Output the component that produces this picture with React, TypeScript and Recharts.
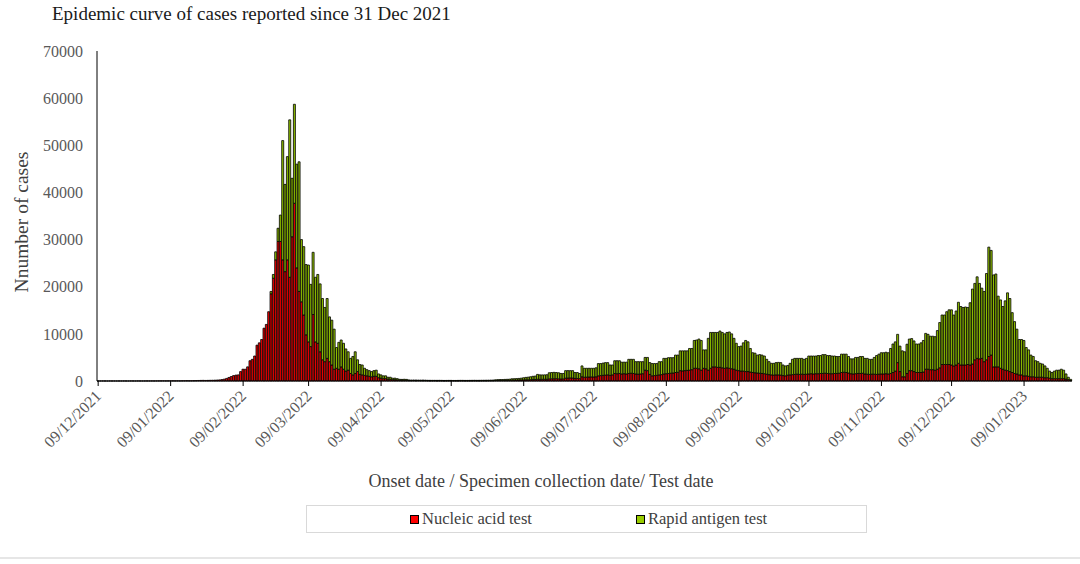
import { BarChart, Bar, XAxis, YAxis } from "recharts";

// Daily counts, one entry per day starting 09/12/2021 (417 days, to 29/01/2023)
const nucleicCases = [
  // 09/12/2021 - 31/12/2021
  12, 8, 15, 10, 6, 14, 9, 11, 7, 13, 10, 16, 12, 9, 18, 14, 11, 20, 15, 13, 17, 22, 19,
  // Jan 2022
  24, 18, 27, 30, 35, 41, 33, 38, 45, 52, 40, 48, 36, 55, 62, 70, 58, 66, 80, 95, 110, 128, 140, 120, 135, 150, 165, 180, 210, 240,
  300, 400, 550, 750, 950, 1150, 1250, 1300, 2000, 2500, 2500, 3000, 4300, 4600, 5300, 7600, 8100, 8800, 11200, 12000, 14700,
  // late Feb - Mar 2022 peak
  18500, 21800, 25700, 29600, 29600, 25700, 23200, 25700, 22000, 30600, 37700, 24000, 19000, 16800, 14000, 9800, 8300,
  7300, 14100, 8300, 8000, 6200, 4500, 4100, 4800, 4100, 3400, 2500, 2700, 2500, 3000, 2500, 2100, 2300, 1600, 1300, 1600,
  2000, 1400, 1300, 1200, 1100, 1000, 900, 1000, 1000, 700, 600, 500, 500, 380, 360, 280, 270, 230, 170, 160, 170, 150,
  105, 95, 110, 90, 100, 85, 95, 90,
  // late Apr - May 2022
  70, 65, 60, 72, 55, 58, 62, 50, 48, 55, 60, 52, 45, 50, 58, 62, 55, 48, 52, 60, 65, 58, 55, 62, 70, 68, 75, 80, 85,
  110, 120, 130, 125, 140, 150, 160, 180, 190, 200, 210, 220, 240, 250, 260, 280, 300, 320, 380,
  // Jun - Jul 2022
  350, 360, 380, 370, 450, 470, 480, 500, 460, 430, 450, 600, 620, 650, 630, 550, 540, 500, 900, 800, 820, 850, 870, 860, 900,
  1100, 1150, 1200, 1250, 1300, 1200, 1300, 1600, 1550, 1600, 1500, 1550, 1500, 1600, 1650, 1600, 1500, 1450, 1500, 1550, 2300, 2200, 1400,
  // Aug - Sep 2022
  1100, 1150, 1200, 1300, 1350, 1500, 1550, 1600, 1650, 1700, 1800, 1850, 2200, 2150, 2200, 2250, 2300, 2400,
  2700, 2700, 2600, 2300, 2700, 2600, 2300, 2700, 3000, 3000, 2900, 2900, 2800, 2700, 2800, 2700, 2600,
  2500, 2300, 2200, 2100, 2100, 2000, 2000, 1900, 1800, 1750, 1700, 1650, 1600, 1550, 1450, 1350, 1300, 1250, 1300, 1300, 1250, 1150, 1100, 1250, 1300,
  // Oct - Nov 2022
  1350, 1400, 1450, 1400, 1450, 1400, 1450,
  1500, 1550, 1500, 1550, 1550, 1600, 1600, 1650, 1600, 1550, 1550, 1600, 1600, 1650,
  1800, 1850, 1800, 1700, 1550, 1500, 1550, 1600, 1600, 1650, 1500, 1450, 1400, 1450, 1450,
  1400, 1450, 1500, 1500, 1550, 1500, 1600, 1800, 2100, 3900, 2000, 900, 900, 1600, 2200, 2200, 2000, 1800, 1800, 1800, 1900, 2500, 2500, 2400, 2400, 2300, 2500, 2800,
  // Dec 2022
  3500, 3500, 3500, 3500, 3400, 3200, 3400, 3750, 3400, 3400, 3400, 3500, 3400, 3600, 4500, 4800, 4700, 4800, 4100, 4500, 5200, 5500, 3000, 3000, 3000, 2700, 2500, 2300, 2200, 2000,
  // Jan 2023
  1800, 1600, 1500, 1300, 1300, 1100, 1100, 1000, 900, 900, 800, 800, 800, 800, 700, 700, 600, 500, 500, 500, 500, 500, 500, 400, 300, 100,
];

const rapidCases = [
  0, 0, 0, 0, 0, 0, 0, 0, 0, 0, 0, 0, 0, 0, 0, 0, 0, 0, 0, 0,
  0, 0, 0, 0, 0, 0, 0, 0, 0, 0, 0, 0, 0, 0, 0, 0, 0, 0, 0, 0,
  0, 0, 0, 0, 0, 0, 0, 0, 0, 0, 0, 0, 0, 0, 0, 0, 0, 0, 0, 0,
  0, 0, 0, 0, 0, 0, 0, 0, 0, 0, 0, 0, 0, 0,
  500, 800, 1700, 2800, 5600, 25300, 18500, 21900, 33400, 12400, 21000, 22000, 27500, 13200, 14500, 14900, 16300,
  13200, 13200, 13700, 14600, 14400, 13000, 11500, 12700, 9500, 9500, 8500, 4400, 5700, 5700, 5500, 4700, 3900, 3200, 3900, 4600,
  2500, 2100, 2100, 1500, 1300, 1200, 1100, 1200, 1300, 800, 700, 600, 600, 420, 440, 320, 330, 270, 190, 180, 200, 190,
  120, 110, 100, 115, 95, 105, 100, 90,
  80, 75, 82, 70, 78, 85, 72, 68, 75, 80, 70, 65, 72, 78, 82, 75, 70, 78, 85, 80, 88, 82, 90, 95, 92, 100, 105, 110, 120,
  150, 170, 180, 190, 200, 210, 230, 290, 300, 320, 340, 380, 450, 520, 560, 620, 700, 730, 1020,
  950, 930, 920, 960, 1300, 1330, 1350, 1300, 1290, 1170, 1150, 1600, 1580, 1550, 1570, 1250, 1260, 1100, 2300, 1900, 1880, 1850, 1830, 1840, 1900,
  2600, 2550, 2600, 2650, 2600, 2200, 2100, 2700, 2750, 2700, 2500, 2450, 2500, 3000, 2950, 3000, 2600, 2650, 2600, 2550, 2700, 2800, 2500,
  2600, 2550, 2500, 2800, 2750, 3300, 3250, 3350, 3300, 3250, 3700, 3650, 4200, 4250, 4200, 4150, 4600, 4500,
  5900, 6000, 6300, 6300, 3900, 4000, 6750, 7600, 7300, 7300, 7400, 7700, 7500, 7300, 7500, 7700, 7400,
  6550, 5700, 5100, 5300, 6000, 6600, 6300, 5000, 4200, 4150, 3800, 3950, 3900, 3750, 3150, 2750, 2450, 2500, 2600, 2650, 2650, 2250, 2100, 2050, 2450,
  3250, 3400, 3350, 3400, 3350, 3200, 3350,
  3800, 3750, 3800, 3750, 3850, 3800, 4000, 3950, 3800, 3850, 3750, 3700, 3600, 3550,
  3900, 3850, 3900, 3500, 3150, 3200, 3450, 3400, 3600, 3550, 3300, 3350, 3200, 3150, 3550,
  4000, 4250, 4500, 4500, 4550, 4500, 5300, 6050, 6200, 6000, 5400, 5500, 5300, 6200, 6700, 6800, 6500, 6050, 6050, 6300, 6700, 7600, 7400, 7100, 7100, 7100, 8200, 9600,
  10500, 10500, 11200, 11600, 11700, 10800, 11450, 12950, 12400, 12200, 12300, 12100, 13200, 15900, 16200, 17300, 16000, 14900, 14900, 18300, 23200, 22200, 19500, 19700, 15000, 14500, 13300, 14700, 16500, 15500,
  12700, 11000, 9500, 7500, 7500, 7500, 6000, 5600, 4600, 4300, 3500, 3300, 2950, 2800, 2500, 2000, 1500, 1300, 1600, 1800, 1800, 2000, 1800, 1100, 500, 250,
];

// day index (from 09/12/2021) of each labelled tick
const tickDays = [0, 31, 62, 90, 121, 151, 182, 212, 243, 274, 304, 335, 365, 396];
const tickLabels = [
  "09/12/2021", "09/01/2022", "09/02/2022", "09/03/2022", "09/04/2022", "09/05/2022", "09/06/2022",
  "09/07/2022", "09/08/2022", "09/09/2022", "09/10/2022", "09/11/2022", "09/12/2022", "09/01/2023",
];
const yTicks = [0, 10000, 20000, 30000, 40000, 50000, 60000, 70000];

const data = nucleicCases.map((n, i) => ({ day: i, nucleic: n, rapid: rapidCases[i] ?? 0 }));

const FONT = '"Liberation Serif", "Times New Roman", serif';
const RED = "#f00000";
const GREEN = "#8fbf00";

function DateTick({ x, y, payload }: any) {
  const label = tickLabels[tickDays.indexOf(payload.value)] ?? "";
  const px = x + 4;
  const py = y + 9;
  return (
    <text
      x={px}
      y={py}
      transform={`rotate(-45 ${px} ${py})`}
      textAnchor="end"
      fontSize={16}
      fill="#595959"
      style={{ fontFamily: FONT }}
    >
      {label}
    </text>
  );
}

export default function App() {
  return (
    <div
      style={{
        position: "absolute",
        left: 0,
        top: 0,
        width: 1080,
        height: 564,
        background: "#fff",
        fontFamily: FONT,
        overflow: "hidden",
      }}
    >
      <div style={{ position: "absolute", left: 52, top: 3, fontSize: 19, color: "#1a1a1a", whiteSpace: "nowrap" }}>
        Epidemic curve of cases reported since 31 Dec 2021
      </div>

      <BarChart
        width={1080}
        height={564}
        data={data}
        margin={{ top: 51, right: 8, bottom: 0, left: 0 }}
        barCategoryGap={0}
        barGap={0}
        style={{ fontFamily: FONT }}
      >
        <XAxis
          dataKey="day"
          height={183}
          ticks={tickDays}
          interval={0}
          tick={<DateTick />}
          tickSize={5}
          axisLine={{ stroke: "#000" }}
          tickLine={{ stroke: "#000" }}
        />
        <YAxis
          width={97}
          domain={[0, 70000]}
          ticks={yTicks}
          interval={0}
          tickLine={false}
          tickSize={6}
          tickMargin={8}
          axisLine={{ stroke: "#000" }}
          tick={{ fontSize: 16, fill: "#595959", style: { fontFamily: FONT } }}
        />
        <Bar dataKey="nucleic" stackId="a" fill={RED} stroke="#000" strokeWidth={0.8} isAnimationActive={false} />
        <Bar dataKey="rapid" stackId="a" fill={GREEN} stroke="#000" strokeWidth={0.8} isAnimationActive={false} />
      </BarChart>

      <div
        style={{
          position: "absolute",
          left: 22,
          top: 222,
          transform: "translate(-50%, -50%) rotate(-90deg)",
          fontSize: 19.5,
          color: "#404040",
          whiteSpace: "nowrap",
        }}
      >
        Nnumber of cases
      </div>

      <div
        style={{
          position: "absolute",
          left: 541,
          top: 481,
          transform: "translate(-50%, -50%)",
          fontSize: 18,
          color: "#404040",
          whiteSpace: "nowrap",
        }}
      >
        Onset date / Specimen collection date/ Test date
      </div>

      <div
        style={{
          position: "absolute",
          left: 306,
          top: 505,
          width: 559,
          height: 26,
          border: "1px solid #d9d9d9",
          fontSize: 16.5,
          color: "#404040",
        }}
      >
        <div style={{ position: "absolute", left: 103, top: 3, display: "flex", alignItems: "center", whiteSpace: "nowrap" }}>
          <span style={{ width: 7, height: 7, background: "#ff0000", border: "1px solid #000", marginRight: 3 }} />
          Nucleic acid test
        </div>
        <div style={{ position: "absolute", left: 329, top: 3, display: "flex", alignItems: "center", whiteSpace: "nowrap" }}>
          <span style={{ width: 7, height: 7, background: "#99cc00", border: "1px solid #000", marginRight: 3 }} />
          Rapid antigen test
        </div>
      </div>

      <div style={{ position: "absolute", left: 0, top: 557, width: 1080, height: 2, background: "#e6e6e6" }} />
    </div>
  );
}
